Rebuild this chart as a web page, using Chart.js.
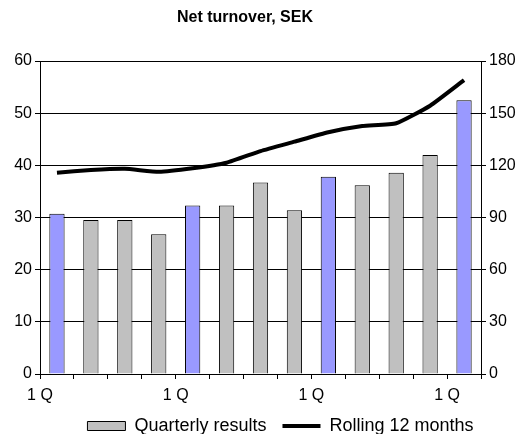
<!DOCTYPE html>
<html>
<head>
<meta charset="utf-8">
<script src="https://cdn.jsdelivr.net/npm/chart.js@4/dist/chart.umd.min.js"></script>
<style>
  html, body { margin: 0; padding: 0; background: #ffffff; }
  #wrap { width: 521px; height: 434px; }
</style>
</head>
<body>
<div id="wrap"><canvas id="c" width="521" height="434"></canvas></div>
<script>
// ---- data ----
const quarters = ['1 Q', '2 Q', '3 Q', '4 Q', '1 Q', '2 Q', '3 Q', '4 Q', '1 Q', '2 Q', '3 Q', '4 Q', '1 Q'];
const quarterlyResults = [30.7, 29.5, 29.5, 26.8, 32.3, 32.3, 36.7, 31.4, 37.8, 36.2, 38.6, 42.0, 52.5];
const rolling12Months = [115.8, 117.3, 118.0, 116.3, 118.3, 121.5, 128.2, 133.6, 139.0, 142.6, 144.2, 154.3, 169.0];
const leftTicks = [0, 10, 20, 30, 40, 50, 60];
const rightTicks = [0, 30, 60, 90, 120, 150, 180];
const xTickLabel = '1 Q';
const titleText = 'Net turnover, SEK';
const seriesNames = ['Quarterly results', 'Rolling 12 months'];

const BLUE = '#9999ff';
const GRAY = '#c0c0c0';
const barColors = quarters.map((q, i) => (i % 4 === 0 ? BLUE : GRAY));

const FONT = '"Liberation Sans", Arial, sans-serif';

const titlePlugin = {
  id: 'customTitle',
  afterDraw(chart) {
    const ctx = chart.ctx;
    ctx.save();
    ctx.font = 'bold 16px ' + FONT;
    ctx.fillStyle = '#000';
    ctx.textAlign = 'center';
    ctx.textBaseline = 'middle';
    ctx.fillText(titleText, 245, 18);
    ctx.restore();
  }
};

// nudge the legend box to where the reference places it
const legendShift = {
  id: 'legendShift',
  afterLayout(chart) {
    const lg = chart.legend;
    if (!lg) return;
    const dx = 20, dy = -5;
    lg.left += dx; lg.right += dx;
    lg.top += dy; lg.bottom += dy;
  }
};

new Chart(document.getElementById('c'), {
  type: 'bar',
  data: {
    labels: quarters,
    datasets: [
      {
        type: 'bar',
        label: seriesNames[0],
        data: quarterlyResults,
        backgroundColor: barColors,
        borderColor: '#000',
        borderWidth: 1,
        barPercentage: 0.45,
        categoryPercentage: 1.0,
        xAxisID: 'x',
        yAxisID: 'y',
        order: 2
      },
      {
        type: 'line',
        label: seriesNames[1],
        data: rolling12Months,
        borderColor: '#000',
        backgroundColor: '#000',
        borderWidth: 4,
        pointRadius: 0,
        tension: 0.15,
        xAxisID: 'x',
        yAxisID: 'y1',
        order: 1
      }
    ]
  },
  options: {
    responsive: false,
    animation: false,
    layout: { padding: { top: 61, bottom: -16, left: 0, right: 0 } },
    plugins: {
      title: { display: false },
      tooltip: { enabled: false },
      legend: {
        display: true,
        position: 'bottom',
        labels: {
          font: { family: FONT, size: 18 },
          color: '#000',
          usePointStyle: true,
          pointStyleWidth: 38,
          boxHeight: 9,
          padding: 16,
          generateLabels() {
            return [
              { text: seriesNames[0], pointStyle: 'rect', fillStyle: GRAY, strokeStyle: '#000', lineWidth: 1, datasetIndex: 0 },
              { text: seriesNames[1], pointStyle: 'line', fillStyle: '#000', strokeStyle: '#000', lineWidth: 4, datasetIndex: 1 }
            ];
          }
        }
      }
    },
    scales: {
      x: {
        type: 'category',
        display: false,
        offset: true
      },
      x2: {
        type: 'linear',
        position: 'bottom',
        offset: false,
        min: 0,
        max: quarters.length,
        afterBuildTicks(s) { s.ticks = quarters.map((q, i) => ({ value: i })).concat([{ value: quarters.length }]); },
        afterFit(s) { s.height = 32; },
        ticks: {
          autoSkip: false,
          maxRotation: 0,
          padding: 7,
          font: { family: FONT, size: 16 },
          color: '#000',
          callback(v) { return (v % 4 === 0 && v < quarters.length) ? xTickLabel : ''; }
        },
        grid: { offset: false, drawOnChartArea: false, drawTicks: true, tickLength: 5, color: '#000', lineWidth: 1 },
        border: { display: true, color: '#000', width: 1 }
      },
      y: {
        type: 'linear',
        position: 'left',
        min: 0,
        max: 60,
        afterBuildTicks(s) { s.ticks = leftTicks.map(v => ({ value: v })); },
        afterFit(s) { s.width = 40; },
        ticks: { font: { family: FONT, size: 16 }, color: '#000', padding: 3 },
        grid: { color: '#000', lineWidth: 1, drawTicks: true, tickLength: 5 },
        border: { display: true, color: '#000', width: 1 }
      },
      y1: {
        type: 'linear',
        position: 'right',
        min: 0,
        max: 180,
        afterBuildTicks(s) { s.ticks = rightTicks.map(v => ({ value: v })); },
        afterFit(s) { s.width = 40; },
        ticks: { font: { family: FONT, size: 16 }, color: '#000', padding: 3 },
        grid: { drawOnChartArea: false, color: '#000', lineWidth: 1, drawTicks: true, tickLength: 5 },
        border: { display: true, color: '#000', width: 1 }
      }
    }
  },
  plugins: [titlePlugin, legendShift]
});
</script>
</body>
</html>
